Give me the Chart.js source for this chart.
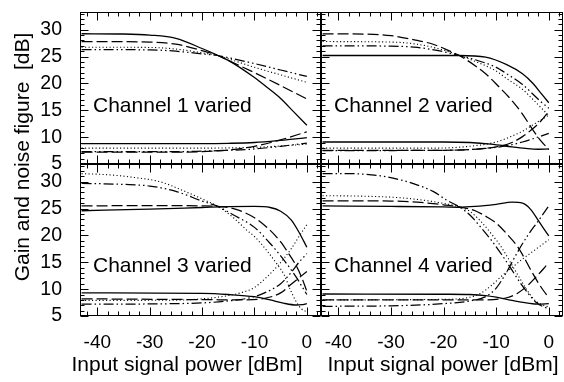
<!DOCTYPE html>
<html>
<head>
<meta charset="utf-8">
<script src="https://cdn.jsdelivr.net/npm/chart.js@4/dist/chart.umd.min.js"></script>
<style>
  html, body { margin: 0; padding: 0; background: #fff; }
  #wrap { position: relative; width: 564px; height: 382px; background: #fff; }
  #wrap canvas { position: absolute; left: 0; top: 0; }
</style>
</head>
<body>
<div id="wrap">
  <canvas id="c1" width="564" height="382"></canvas>
  <canvas id="c2" width="564" height="382"></canvas>
  <canvas id="c3" width="564" height="382"></canvas>
  <canvas id="c4" width="564" height="382"></canvas>
</div>
<script>
// ---------------- data ----------------
const xTicks = [-40, -30, -20, -10, 0];
const yTicks = [5, 10, 15, 20, 25, 30];
const panelTitles = ['Channel 1 varied', 'Channel 2 varied', 'Channel 3 varied', 'Channel 4 varied'];
const xTitle = 'Input signal power [dBm]';
const yTitle = 'Gain and noise figure  [dB]';

// Panel 1: channel 1 varied  ([input dBm, dB])
const p1GainSolid   = [[-43,29.25],[-35,29.2],[-30,29.0],[-25,28.4],[-20,26.5],[-17,25.2],[-15,24.3],[-10,21.1],[-7.5,19.2],[-5,17.2],[-2.5,14.7],[0,12.2]];
const p1GainDashed  = [[-43,27.8],[-30,27.7],[-25,27.3],[-20,26.1],[-17,25.2],[-15,24.3],[-10,22.0],[-5,19.6],[0,17.1]];
const p1GainDotted  = [[-43,26.75],[-30,26.7],[-25,26.4],[-20,25.7],[-17,25.2],[-15,24.6],[-10,23.0],[-5,21.6],[0,20.2]];
const p1GainDashDot = [[-43,26.3],[-30,26.25],[-25,26.0],[-20,25.5],[-17,25.2],[-15,24.8],[-10,23.7],[-5,22.5],[0,21.3]];
const p1NfSolid     = [[-43,8.8],[-20,8.8],[-15,8.85],[-10,9.0],[-5,9.4],[0,9.9]];
const p1NfDashed    = [[-43,7.2],[-25,7.2],[-20,7.3],[-15,7.6],[-10,8.3],[-5,9.5],[0,11.0]];
const p1NfDotted    = [[-43,7.95],[-20,7.95],[-15,8.0],[-10,8.1],[-5,8.35],[0,8.7]];
const p1NfDashDot   = [[-43,7.3],[-25,7.3],[-20,7.4],[-15,7.55],[-10,7.8],[-5,8.3],[0,8.9]];

// Panel 2: channel 2 varied
const p2GainSolid   = [[-43,25.2],[-30,25.2],[-17,25.2],[-12,24.9],[-8,23.5],[-5,21.8],[-3,20.0],[-1.5,18.2],[0,16.4]];
const p2GainDashed  = [[-43,29.25],[-35,29.2],[-30,28.9],[-25,28.0],[-22,27.3],[-19,26.1],[-17,25.2],[-14,23.3],[-12,21.8],[-10,19.9],[-7,16.8],[-5,14.3],[-3,11.3],[-1.5,9.3],[0,7.7]];
const p2GainDotted  = [[-43,27.8],[-30,27.7],[-25,27.3],[-20,26.2],[-17,25.2],[-15,24.5],[-10,22.3],[-8,20.9],[-5,18.9],[-3,17.0],[-1.5,15.5],[0,14.0]];
const p2GainDashDot = [[-43,27.0],[-30,26.95],[-25,26.7],[-20,25.9],[-17,25.2],[-15,24.7],[-10,23.0],[-8,21.8],[-5,19.8],[-3,18.0],[-1.5,16.6],[0,15.4]];
const p2NfSolid     = [[-43,9.1],[-20,9.1],[-15,9.0],[-11,8.7],[-7,8.2],[-4,7.85],[-2,7.75],[0,7.8]];
const p2NfDashed    = [[-43,7.55],[-20,7.55],[-15,7.7],[-10,8.2],[-7,9.0],[-5,10.1],[-3,11.6],[-1.5,13.0],[0,14.8]];
const p2NfDotted    = [[-43,7.95],[-22,7.95],[-15,8.3],[-10,9.1],[-7,10.2],[-5,11.1],[-3,12.3],[-1.5,13.2],[0,14.1]];
const p2NfDashDot   = [[-43,7.5],[-20,7.55],[-12,7.9],[-8,8.4],[-5,9.1],[-3,9.7],[-1.5,10.2],[0,10.7]];

// Panel 3: channel 3 varied
const p3GainSolid   = [[-43,24.6],[-30,24.9],[-20,25.2],[-15,25.35],[-10,25.4],[-7,25.2],[-5,24.5],[-3,22.9],[-1.5,20.6],[0,17.8]];
const p3GainDashed  = [[-43,25.5],[-30,25.55],[-20,25.5],[-17,25.4],[-14,25.0],[-10,23.3],[-7.5,21.4],[-5,18.8],[-3.8,17.1],[-2,14.3],[-1,12.2],[0,9.6]];
const p3GainDotted  = [[-43,31.5],[-38,31.3],[-33,30.8],[-28,30.0],[-24,28.5],[-20,26.8],[-17,25.4],[-14,23.3],[-11.5,21.0],[-10,19.8],[-7.5,17.0],[-5.5,14.4],[-4.4,12.8],[-3.2,10.0],[-2,7.6],[-1,6.3],[0,5.8]];
const p3GainDashDot = [[-43,29.7],[-35,29.5],[-30,29.2],[-25,28.2],[-20,26.4],[-17,25.4],[-14,23.8],[-10,21.5],[-7,18.5],[-5,16.2],[-3,13.6],[-2,12.2],[-1,10.6],[0,9.0]];
const p3NfSolid     = [[-43,9.3],[-20,9.2],[-15,9.0],[-10,8.6],[-7,8.0],[-4.5,7.4],[-2,7.05],[-1,7.1],[0,7.3]];
const p3NfDashed    = [[-43,8.2],[-20,8.05],[-12,8.0],[-8,8.3],[-5,9.3],[-3,10.9],[-1.5,12.1],[0,13.3]];
const p3NfDotted    = [[-43,7.9],[-25,7.95],[-20,8.2],[-15,8.8],[-12,9.5],[-10,10.3],[-7.5,12.4],[-5.5,14.4],[-3,17.5],[-1.5,19.8],[0,22.0]];
const p3NfDashDot   = [[-43,7.2],[-25,7.3],[-15,7.8],[-10,8.6],[-7,9.8],[-5,11.0],[-3,13.1],[-1.5,15.0],[0,16.6]];

// Panel 4: channel 4 varied
const p4GainSolid   = [[-43,25.5],[-30,25.4],[-20,25.3],[-17,25.25],[-14,25.4],[-10,25.8],[-7,26.2],[-5,26.0],[-3.5,24.9],[-2,22.8],[-1,21.3],[0,19.9]];
const p4GainDashed  = [[-43,26.45],[-30,26.4],[-25,26.2],[-20,25.7],[-17,25.3],[-14,24.6],[-11.7,23.4],[-10,22.3],[-7.9,20.2],[-6,18.0],[-4.7,15.9],[-3.5,13.7],[-2.2,11.5],[-1,9.7],[0,8.4]];
const p4GainDotted  = [[-43,27.4],[-35,27.3],[-28,27.0],[-22,26.3],[-17,25.3],[-15,24.5],[-13,22.7],[-11,20.4],[-9,17.8],[-7.3,15.0],[-5.5,12.0],[-4,9.6],[-2.5,7.8],[-1,7.0],[0,6.7]];
const p4GainDashDot = [[-43,31.5],[-38,31.5],[-32,31.1],[-28,30.3],[-25.6,29.6],[-22,28.2],[-19.3,26.5],[-17,25.3],[-15,23.8],[-13,21.6],[-11,19.2],[-9,16.5],[-7.3,14.0],[-5.5,11.3],[-4,9.3],[-2.5,7.6],[-1,6.7],[0,6.4]];
const p4NfSolid     = [[-43,9.1],[-20,9.05],[-15,9.0],[-12,8.8],[-10,8.5],[-7,7.9],[-4,7.4],[-2,7.2],[0,7.3]];
const p4NfDashed    = [[-43,8.0],[-20,8.0],[-12,8.0],[-8,8.4],[-6,9.2],[-4,10.7],[-2.5,12.2],[-1,13.8],[0,15.0]];
const p4NfDotted    = [[-43,8.0],[-20,8.1],[-15,8.5],[-13,9.2],[-11,10.6],[-9,12.4],[-7,14.0],[-5,15.6],[-2.5,17.4],[0,19.2]];
const p4NfDashDot   = [[-43,6.8],[-30,6.9],[-20,7.3],[-15,7.8],[-12,8.6],[-10,10.2],[-8,13.2],[-6,16.8],[-4,20.0],[-2,22.7],[0,25.5]];

// ---------------- drawing ----------------
const FONT = "'Liberation Sans', Arial, Helvetica, sans-serif";
Chart.defaults.font.family = FONT;
Chart.defaults.color = '#000';

const styles = [
  [],                         // solid
  [11, 4],                    // dashed
  [1.1, 2.4],                 // dotted
  [10, 3, 1.5, 3, 1.5, 3]     // dash-dot-dot
];
const widths = [1.3, 1.25, 1.1, 1.25];

const framePlugin = {
  id: 'frame',
  afterDatasetsDraw(chart, args, opts) {
    const { ctx, chartArea: a, scales: { x, y } } = chart;
    ctx.save();
    ctx.strokeStyle = '#000';
    ctx.lineWidth = 1;
    ctx.setLineDash([]);
    const L = Math.round(a.left) + 0.5, R = Math.round(a.right) - 0.5;
    const T = Math.round(a.top) + 0.5, B = Math.round(a.bottom) - 0.5;
    ctx.strokeRect(L, T, R - L, B - T);
    ctx.beginPath();
    for (let v = Math.ceil(x.min / 2) * 2; v <= x.max; v += 2) {
      const px = Math.round(x.getPixelForValue(v)) + 0.5;
      const len = v % 10 === 0 ? 8 : 4;
      ctx.moveTo(px, B); ctx.lineTo(px, B - len);
      ctx.moveTo(px, T); ctx.lineTo(px, T + len);
    }
    for (let v = Math.ceil(y.min); v <= y.max; v += 1) {
      const py = Math.round(y.getPixelForValue(v)) + 0.5;
      const len = v % 5 === 0 ? 8 : 4;
      ctx.moveTo(L, py); ctx.lineTo(L + len, py);
      ctx.moveTo(R, py); ctx.lineTo(R - len, py);
    }
    ctx.stroke();
    if (opts.label) {
      ctx.fillStyle = '#000';
      ctx.font = '21px ' + FONT;
      ctx.textAlign = 'left';
      ctx.textBaseline = 'middle';
      ctx.fillText(opts.label, a.left + 13, a.top + opts.labelDY);
    }
    ctx.restore();
  }
};

const titlePlugin = {
  id: 'axisTitles',
  afterDraw(chart) {
    const ctx = chart.ctx;
    ctx.save();
    ctx.fillStyle = '#000';
    ctx.font = '21px ' + FONT;
    ctx.textAlign = 'center';
    ctx.textBaseline = 'middle';
    ctx.fillText(xTitle, 187, 365);
    ctx.fillText(xTitle, 443, 365);
    ctx.translate(23, 157);
    ctx.rotate(-Math.PI / 2);
    ctx.fillText(yTitle, 0, 0);
    ctx.restore();
  }
};

function noPad(s) { s.paddingTop = 0; s.paddingBottom = 0; s.paddingLeft = 0; s.paddingRight = 0; }

// box: [left, top, right, bottom] of the plot area in page pixels
function panel(id, curves, title, box, showX, showY, labelDY, extraPlugins) {
  const W = 564, H = 382;
  const yW = showY ? box[0] : 0;
  const xH = showX ? H - box[3] : 0;
  const datasets = curves.map((c, i) => ({
    data: c.map(p => ({ x: p[0], y: p[1] })),
    borderColor: '#000',
    borderWidth: widths[i % 4],
    borderDash: styles[i % 4],
    pointRadius: 0,
    fill: false,
    cubicInterpolationMode: 'monotone'
  }));
  return new Chart(document.getElementById(id), {
    type: 'line',
    data: { datasets },
    options: {
      responsive: false,
      animation: false,
      events: [],
      layout: { padding: { left: box[0] - yW, top: box[1], right: W - box[2], bottom: H - box[3] - xH } },
      plugins: {
        legend: { display: false },
        tooltip: { enabled: false },
        frame: { label: title, labelDY: labelDY }
      },
      scales: {
        x: {
          type: 'linear', min: -43.3, max: 2.7,
          grid: { display: false },
          border: { display: false },
          ticks: { display: showX, font: { size: 19 }, padding: 7, color: '#000', maxRotation: 0, autoSkip: false },
          afterBuildTicks: s => { s.ticks = xTicks.map(v => ({ value: v })); },
          afterFit: s => { s.height = xH; noPad(s); }
        },
        y: {
          type: 'linear', min: 5, max: 33.3,
          grid: { display: false },
          border: { display: false },
          ticks: { display: showY, font: { size: 19.5 }, padding: 10, color: '#000', autoSkip: false },
          afterBuildTicks: s => { s.ticks = yTicks.map(v => ({ value: v })); },
          afterFit: s => { s.width = yW; noPad(s); }
        }
      }
    },
    plugins: [framePlugin].concat(extraPlugins || [])
  });
}

panel('c1', [p1GainSolid, p1GainDashed, p1GainDotted, p1GainDashDot, p1NfSolid, p1NfDashed, p1NfDotted, p1NfDashDot],
      panelTitles[0], [80, 12, 321, 164], false, true, 94);
panel('c2', [p2GainSolid, p2GainDashed, p2GainDotted, p2GainDashDot, p2NfSolid, p2NfDashed, p2NfDotted, p2NfDashDot],
      panelTitles[1], [321, 12, 563, 164], false, false, 94);
panel('c3', [p3GainSolid, p3GainDashed, p3GainDotted, p3GainDashDot, p3NfSolid, p3NfDashed, p3NfDotted, p3NfDashDot],
      panelTitles[2], [80, 164, 321, 316], true, true, 102, [titlePlugin]);
panel('c4', [p4GainSolid, p4GainDashed, p4GainDotted, p4GainDashDot, p4NfSolid, p4NfDashed, p4NfDotted, p4NfDashDot],
      panelTitles[3], [321, 164, 563, 316], true, false, 102);
</script>
</body>
</html>
